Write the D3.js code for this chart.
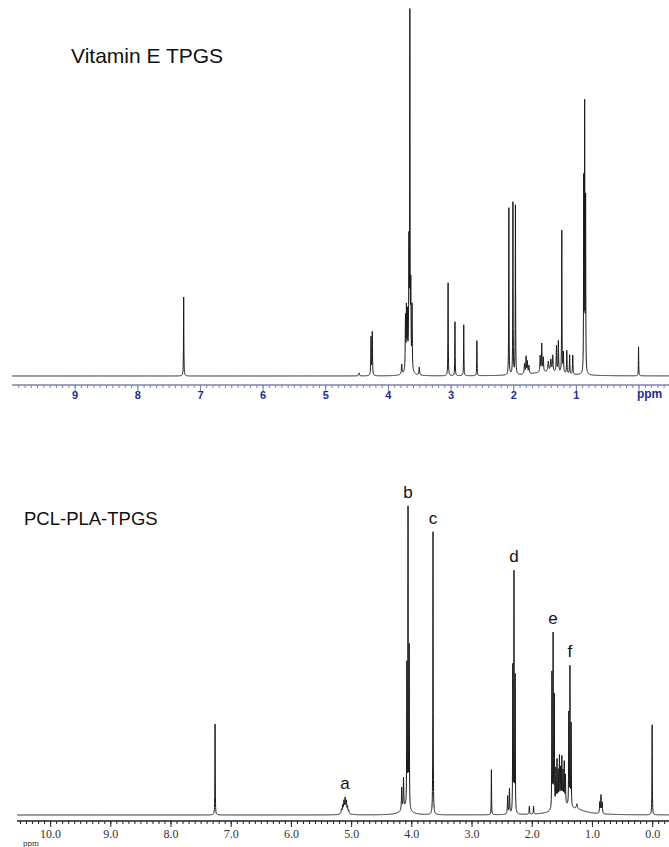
<!DOCTYPE html>
<html>
<head>
<meta charset="utf-8">
<script src="https://cdn.jsdelivr.net/npm/d3@7"></script>
<style>
  html, body { margin: 0; padding: 0; background: #fff; }
  svg { display: block; }
</style>
</head>
<body>
<div id="chart"></div>
<script>
const width = 669;
const height = 847;

// peaks: [ppm, height, half-width (ppm)]
const tpgsPeaks = [
  [7.26, 79, 0.003],
  [4.46, 3, 0.006],
  [4.27, 38, 0.004], [4.25, 43, 0.004],
  [3.78, 10, 0.006],
  [3.72, 52, 0.004], [3.705, 57, 0.004], [3.69, 48, 0.004],
  [3.665, 112, 0.004], [3.65, 342, 0.003], [3.635, 76, 0.004], [3.615, 63, 0.004],
  [3.67, 16, 0.03],
  [3.50, 8, 0.006],
  [3.04, 93, 0.003],
  [2.93, 54, 0.003],
  [2.79, 51, 0.003],
  [2.58, 35, 0.003],
  [2.07, 167, 0.003],
  [2.005, 172, 0.003],
  [1.965, 169, 0.003],
  [1.82, 10, 0.006], [1.795, 17, 0.005], [1.775, 12, 0.005], [1.75, 8, 0.006],
  [1.57, 16, 0.005], [1.545, 28, 0.005], [1.52, 14, 0.005],
  [1.44, 10, 0.008], [1.40, 12, 0.008], [1.37, 16, 0.006],
  [1.31, 26, 0.005], [1.28, 31, 0.005], [1.225, 142, 0.003], [1.20, 20, 0.005],
  [1.145, 23, 0.004], [1.10, 19, 0.004], [1.05, 19, 0.004],
  [0.875, 190, 0.003], [0.86, 262, 0.003], [0.845, 170, 0.003],
  [0.0, 29, 0.003],
  [1.45, 4, 0.3]
];

const blendPeaks = [
  [7.26, 91, 0.003],
  [5.16, 4, 0.006], [5.14, 7, 0.006], [5.12, 10, 0.006], [5.10, 12, 0.006],
  [5.08, 10, 0.006], [5.06, 6, 0.006], [5.04, 3, 0.006], [5.10, 4, 0.04],
  [4.16, 22, 0.005], [4.13, 30, 0.005],
  [4.075, 140, 0.003], [4.055, 297, 0.003], [4.035, 160, 0.003], [4.1, 7, 0.08],
  [3.64, 283, 0.003],
  [2.67, 45, 0.003],
  [2.40, 18, 0.005], [2.37, 25, 0.005],
  [2.315, 145, 0.003], [2.295, 238, 0.003], [2.275, 135, 0.003],
  [2.04, 8, 0.004], [1.97, 8, 0.004],
  [1.665, 135, 0.003], [1.645, 172, 0.003], [1.625, 110, 0.003],
  [1.60, 36, 0.004], [1.58, 44, 0.004], [1.56, 32, 0.004], [1.54, 46, 0.004],
  [1.52, 33, 0.004], [1.50, 44, 0.004], [1.48, 30, 0.004], [1.46, 40, 0.004],
  [1.44, 28, 0.004],
  [1.385, 92, 0.003], [1.365, 138, 0.003], [1.345, 82, 0.003],
  [1.25, 5, 0.01],
  [0.87, 11, 0.005], [0.85, 18, 0.005], [0.83, 11, 0.005],
  [0.0, 90, 0.003],
  [1.5, 10, 0.12], [1.25, 4, 0.2]
];

const blendLabels = [
  ["a", 5.10], ["b", 4.055], ["c", 3.64], ["d", 2.295], ["e", 1.645], ["f", 1.365]
];

const tpgsTicks = [9, 8, 7, 6, 5, 4, 3, 2, 1, 0];
const blendTicks = [10, 9, 8, 7, 6, 5, 4, 3, 2, 1, 0];

// lorentzian sum, sampled on a fine grid plus every peak centre
function spectrum(peaks, lo, hi) {
  const xs = d3.range(lo, hi, 0.002).concat(peaks.map(p => p[0]));
  xs.sort((a, b) => a - b);
  return xs.map(x => [x, d3.sum(peaks, ([c, h, w]) => h * w * w / ((x - c) * (x - c) + w * w))]);
}

const svg = d3.select("#chart")
  .append("svg")
  .attr("width", width)
  .attr("height", height);

// ---------- top panel: Vitamin E TPGS ----------
const x1 = d3.scaleLinear().domain([10.0, -0.486]).range([12, 669]);
const y1 = d3.scaleLinear().domain([0, 364]).range([376, 12]);

svg.append("path")
  .datum(spectrum(tpgsPeaks, -0.486, 10.0))
  .attr("fill", "none")
  .attr("stroke", "#1a1a1a")
  .attr("stroke-width", 1)
  .attr("d", d3.line().x(d => x1(d[0])).y(d => y1(d[1])));

const topAxis = svg.append("g").attr("transform", "translate(0,385)");
topAxis.call(d3.axisBottom(x1)
    .tickValues(d3.range(-4, 100).map(d => d / 10))
    .tickSize(3).tickSizeOuter(0).tickFormat(""));
topAxis.append("g").call(d3.axisBottom(x1)
    .tickValues(tpgsTicks).tickSize(6).tickSizeOuter(0)
    .tickFormat(d => d === 0 ? "" : d));
topAxis.selectAll("path, line").attr("stroke", "#7c84a8");
topAxis.selectAll("path").attr("d", `M${x1.range()[0]},0H${x1.range()[1]}`);
topAxis.selectAll("text")
  .attr("y", 6)
  .attr("fill", "#1c2c94")
  .style("font-family", "Liberation Sans, Arial, sans-serif")
  .style("font-size", "11px")
  .style("font-weight", "bold");
svg.append("text")
  .attr("x", x1(0) + 11)
  .attr("y", 398)
  .attr("text-anchor", "middle")
  .attr("fill", "#1c2c94")
  .style("font-family", "Liberation Sans, Arial, sans-serif")
  .style("font-size", "12px")
  .style("font-weight", "bold")
  .text("ppm");

svg.append("text")
  .attr("x", 71)
  .attr("y", 63)
  .style("font-family", "Liberation Sans, Arial, sans-serif")
  .style("font-size", "21px")
  .attr("fill", "#111")
  .text("Vitamin E TPGS");

// ---------- bottom panel: PCL-PLA-TPGS ----------
const x2 = d3.scaleLinear().domain([10.55, -0.28]).range([17, 669]);
const y2 = d3.scaleLinear().domain([0, 313]).range([815, 502]);

const blendData = spectrum(blendPeaks, -0.28, 10.55);

svg.append("path")
  .datum(blendData)
  .attr("fill", "none")
  .attr("stroke", "#1a1a1a")
  .attr("stroke-width", 1)
  .attr("d", d3.line().x(d => x2(d[0])).y(d => y2(d[1])));

const botAxis = svg.append("g").attr("transform", "translate(0,821)");
botAxis.call(d3.axisBottom(x2)
    .tickValues(d3.range(-2, 106).map(d => d / 10))
    .tickSize(3).tickSizeOuter(0).tickFormat(""));
botAxis.append("g").call(d3.axisBottom(x2)
    .tickValues(blendTicks).tickSize(6).tickSizeOuter(0)
    .tickFormat(d3.format(".1f")));
botAxis.selectAll("path, line").attr("stroke", "#222");
botAxis.selectAll("path").attr("d", `M${x2.range()[0]},0H${x2.range()[1]}`).attr("stroke-width", 1.2);
botAxis.selectAll("text")
  .attr("y", 8)
  .attr("fill", "#333")
  .style("font-family", "Liberation Serif, Times New Roman, serif")
  .style("font-size", "12px");
svg.append("text")
  .attr("x", 31)
  .attr("y", 846)
  .attr("text-anchor", "middle")
  .attr("fill", "#333")
  .style("font-family", "Liberation Serif, Times New Roman, serif")
  .style("font-size", "9px")
  .text("ppm");

svg.append("text")
  .attr("x", 24)
  .attr("y", 525)
  .style("font-family", "Liberation Sans, Arial, sans-serif")
  .style("font-size", "18.5px")
  .attr("fill", "#111")
  .text("PCL-PLA-TPGS");

const peakTop = ppm => d3.max(blendData.filter(d => Math.abs(d[0] - ppm) < 0.03), d => d[1]);

svg.selectAll(".peak-label")
  .data(blendLabels)
  .join("text")
  .attr("class", "peak-label")
  .attr("x", d => x2(d[1]))
  .attr("y", d => y2(peakTop(d[1])) - 8)
  .attr("text-anchor", "middle")
  .style("font-family", "Liberation Sans, Arial, sans-serif")
  .style("font-size", "17px")
  .attr("fill", "#111")
  .text(d => d[0]);
</script>
</body>
</html>
